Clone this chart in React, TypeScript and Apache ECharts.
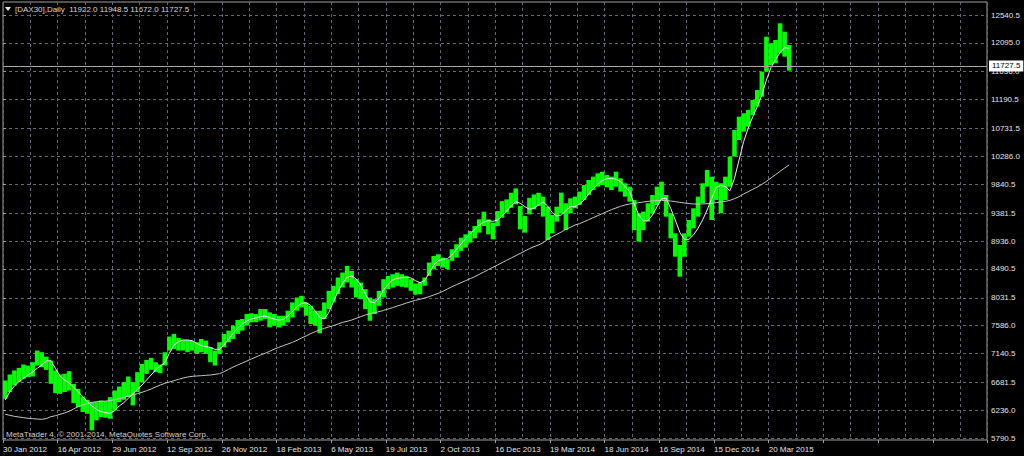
import React, { useEffect, useRef } from "react";
import * as echarts from "echarts";

// x-axis date labels (one every 12 weekly buckets)
const dateLabels = [
  "30 Jan 2012", "16 Apr 2012", "29 Jun 2012", "12 Sep 2012", "26 Nov 2012",
  "18 Feb 2013", "6 May 2013", "19 Jul 2013", "2 Oct 2013", "16 Dec 2013",
  "19 Mar 2014", "18 Jun 2014", "16 Sep 2014", "15 Dec 2014", "20 Mar 2015",
];

// price scale labels
const priceTicks = [
  5790.5, 6236.0, 6681.5, 7140.5, 7586.0, 8031.5, 8490.5, 8936.0,
  9381.5, 9840.5, 10286.0, 10731.5, 11190.5, 11636.0, 12095.0, 12540.5,
];

// weekly bucket highs
const weekHigh = [
  6712, 6808, 6872, 6914, 6967, 6951, 7004, 7190, 7163, 7094,
  7030, 6872, 6808, 6819, 6861, 6659, 6580, 6458, 6405, 6368,
  6368, 6394, 6384, 6447, 6553, 6617, 6686, 6776, 6686, 6845,
  6977, 7041, 7073, 7004, 6967, 7163, 7412, 7455, 7391, 7359,
  7359, 7348, 7322, 7375, 7348, 7242, 7190, 7322, 7455, 7508,
  7587, 7677, 7693, 7773, 7783, 7773, 7852, 7852, 7799, 7772,
  7745, 7745, 7825, 7957, 8036, 8063, 7957, 7904, 7825, 7825,
  7957, 8142, 8222, 8354, 8434, 8540, 8460, 8328, 8275, 8169,
  8036, 8010, 8142, 8328, 8381, 8407, 8434, 8407, 8381, 8328,
  8259, 8275, 8354, 8593, 8699, 8725, 8672, 8646, 8805, 8885,
  8990, 9043, 9096, 9176, 9282, 9404, 9282, 9229, 9414, 9573,
  9600, 9706, 9775, 9494, 9335, 9626, 9679, 9706, 9644, 9484,
  9351, 9484, 9708, 9538, 9617, 9644, 9724, 9830, 9910, 9963,
  10016, 10042, 9989, 9963, 10042, 9936, 9857, 9803, 9591, 9378,
  9405, 9538, 9670, 9803, 9883, 9670, 9378, 9059, 8873, 9059,
  9272, 9458, 9644, 9857, 10069, 9963, 9883, 9857, 9963, 10282,
  10707, 10919, 10973, 11026, 11185, 11345, 11637, 12195, 12089, 12142,
  12408, 12275, 12062,
];

// weekly bucket lows
const weekLow = [
  6421, 6527, 6633, 6686, 6739, 6765, 6776, 6951, 6925, 6882,
  6660, 6511, 6500, 6527, 6553, 6352, 6288, 6209, 6182, 5917,
  6076, 6130, 6119, 6103, 6235, 6368, 6405, 6447, 6315, 6527,
  6686, 6818, 6882, 6845, 6829, 6951, 7190, 7216, 7190, 7190,
  7163, 7190, 7136, 7163, 7136, 7004, 6951, 7136, 7242, 7322,
  7375, 7455, 7508, 7587, 7640, 7640, 7666, 7693, 7560, 7586,
  7559, 7586, 7639, 7718, 7825, 7878, 7745, 7612, 7586, 7464,
  7692, 7851, 7957, 8089, 8195, 8275, 8195, 8036, 8010, 7851,
  7665, 7771, 7904, 8036, 8169, 8195, 8222, 8206, 8195, 8142,
  8079, 8089, 8222, 8381, 8487, 8540, 8514, 8487, 8620, 8672,
  8779, 8832, 8911, 8980, 9070, 9176, 9043, 8964, 9176, 9308,
  9388, 9467, 9520, 9123, 9070, 9361, 9441, 9494, 9325, 8953,
  9059, 9245, 9378, 9112, 9378, 9458, 9511, 9591, 9670, 9750,
  9803, 9830, 9793, 9750, 9803, 9724, 9644, 9564, 9112, 8926,
  9112, 9245, 9378, 9511, 9591, 9325, 8979, 8687, 8368, 8687,
  9006, 9139, 9325, 9538, 9803, 9272, 9591, 9378, 9591, 9803,
  10282, 10547, 10680, 10760, 10946, 11079, 11238, 11637, 11743, 11770,
  11929, 11876, 11653,
];

// fast moving average
const fastMA = [
  6401, 6534, 6624, 6694, 6747, 6800, 6848, 6906, 6959, 7023,
  7028, 6906, 6784, 6720, 6678, 6603, 6534, 6454, 6374, 6306,
  6252, 6215, 6199, 6189, 6231, 6306, 6359, 6428, 6497, 6571,
  6640, 6720, 6800, 6880, 6943, 6997, 7145, 7278, 7331, 7358,
  7358, 7347, 7305, 7268, 7252, 7241, 7209, 7209, 7278, 7369,
  7464, 7544, 7613, 7661, 7693, 7709, 7730, 7740, 7715, 7690,
  7677, 7688, 7741, 7810, 7890, 7943, 7953, 7911, 7821, 7720,
  7693, 7799, 7969, 8129, 8262, 8357, 8379, 8331, 8235, 8092,
  7969, 7953, 8023, 8156, 8246, 8315, 8342, 8352, 8357, 8347,
  8304, 8272, 8304, 8421, 8554, 8623, 8644, 8655, 8714, 8804,
  8889, 8974, 9048, 9123, 9192, 9240, 9261, 9250, 9272, 9335,
  9415, 9495, 9564, 9537, 9484, 9442, 9458, 9511, 9559, 9495,
  9389, 9336, 9351, 9421, 9484, 9484, 9527, 9591, 9681, 9771,
  9846, 9899, 9931, 9936, 9920, 9883, 9803, 9724, 9527, 9351,
  9256, 9261, 9351, 9484, 9612, 9617, 9458, 9272, 9075, 8963,
  8963, 9033, 9139, 9272, 9431, 9617, 9793, 9825, 9803, 9739,
  9936, 10228, 10521, 10733, 10919, 11079, 11265, 11504, 11701, 11834,
  11940, 12020, 12009,
];

// slow moving average
const slowMA = [
  6173, 6157, 6141, 6130, 6120, 6109, 6104, 6098, 6093, 6104,
  6135, 6151, 6173, 6194, 6221, 6258, 6295, 6322, 6348, 6364,
  6375, 6380, 6385, 6391, 6407, 6422, 6444, 6465, 6486, 6502,
  6524, 6550, 6577, 6609, 6640, 6667, 6688, 6709, 6731, 6752,
  6768, 6779, 6784, 6789, 6795, 6800, 6810, 6821, 6853, 6890,
  6927, 6959, 6991, 7023, 7055, 7087, 7119, 7145, 7177, 7212,
  7241, 7268, 7294, 7321, 7353, 7390, 7422, 7459, 7491, 7518,
  7544, 7566, 7587, 7613, 7640, 7656, 7677, 7704, 7730, 7757,
  7778, 7794, 7810, 7831, 7852, 7874, 7900, 7922, 7948, 7969,
  7991, 8007, 8028, 8049, 8076, 8102, 8134, 8171, 8209, 8240,
  8272, 8304, 8336, 8368, 8405, 8442, 8480, 8517, 8554, 8591,
  8629, 8666, 8703, 8740, 8777, 8814, 8846, 8873, 8910, 8964,
  9006, 9043, 9080, 9123, 9155, 9192, 9213, 9245, 9277, 9309,
  9341, 9373, 9405, 9437, 9463, 9490, 9511, 9527, 9537, 9548,
  9559, 9569, 9575, 9580, 9585, 9580, 9575, 9564, 9553, 9543,
  9532, 9527, 9527, 9527, 9532, 9537, 9548, 9559, 9569, 9585,
  9612, 9644, 9686, 9723, 9761, 9798, 9840, 9888, 9941, 9994,
  10048, 10101, 10149,
];

const lastPrice = 11727.5;
const titleText = "[DAX30],Daily  11922.0 11948.5 11672.0 11727.5";
const copyrightText = "MetaTrader 4, \u00a9 2001-2014, MetaQuotes Software Corp.";

const FONT = "'Liberation Sans', Arial, sans-serif";
const GRID_COLOR = "#5e6a78";
const X_MAX = 215.9;

export default function App() {
  const ref = useRef<HTMLDivElement>(null);

  useEffect(() => {
    if (!ref.current) return;
    const chart = echarts.init(ref.current, undefined, { renderer: "svg" });

    const barData = weekHigh.map((h, i) => [i, weekLow[i], h]);
    const fastData = fastMA.map((v, i) => [i + 0.5, v]);
    const slowData = slowMA.map((v, i) => [i + 0.5, v]);

    chart.setOption({
      animation: false,
      backgroundColor: "#000000",
      grid: {
        left: 3,
        right: 37,
        top: 2,
        bottom: 16,
        show: true,
        borderColor: "#a0a0a0",
        borderWidth: 1,
        backgroundColor: "transparent",
      },
      xAxis: [
        {
          type: "value",
          min: 0,
          max: X_MAX,
          interval: 6,
          position: "bottom",
          axisLine: { show: false },
          axisTick: { show: false },
          splitLine: {
            show: true,
            lineStyle: { color: GRID_COLOR, type: [3, 3], width: 1 },
          },
          axisLabel: {
            show: true,
            color: "#e4e4e4",
            fontSize: 8,
            fontFamily: FONT,
            align: "left",
            margin: 5,
            showMaxLabel: false,
            formatter: (v: number) =>
              v % 12 === 0 && dateLabels[v / 12] ? dateLabels[v / 12] : "",
          },
        },
        {
          type: "value",
          min: 0,
          max: X_MAX,
          interval: 12,
          position: "bottom",
          axisLine: { show: false },
          axisTick: { show: true, length: 3, lineStyle: { color: "#a0a0a0" } },
          splitLine: { show: false },
          axisLabel: { show: false },
        },
      ],
      yAxis: {
        type: "value",
        position: "right",
        min: 5763.5,
        max: 12747.8,
        axisLine: { show: false },
        axisTick: {
          show: true,
          length: 3,
          lineStyle: { color: "#a0a0a0" },
          customValues: priceTicks,
        },
        splitLine: {
          show: true,
          lineStyle: { color: GRID_COLOR, type: [3, 3], width: 1 },
        },
        axisLabel: {
          show: true,
          customValues: priceTicks,
          color: "#e4e4e4",
          fontSize: 8,
          fontFamily: FONT,
          margin: 4,
          formatter: (v: number) => v.toFixed(1),
        },
      },
      graphic: [
        {
          type: "polygon",
          shape: { points: [[5, 7], [11, 7], [8, 11]] },
          style: { fill: "#e8e8e8" },
        },
        {
          type: "text",
          left: 15,
          top: 5,
          style: {
            text: titleText,
            fill: "#d8d8d8",
            fontSize: 8,
            fontFamily: FONT,
          },
        },
        {
          type: "text",
          left: 6,
          top: 430,
          style: {
            text: copyrightText,
            fill: "#d0d0d0",
            fontSize: 8,
            fontFamily: FONT,
          },
        },
      ],
      series: [
        {
          type: "custom",
          name: "DAX30",
          xAxisIndex: 0,
          data: barData,
          encode: { x: 0, y: [1, 2] },
          clip: true,
          renderItem: (params: any, api: any) => {
            const i = api.value(0);
            const lo = api.coord([i, api.value(1)]);
            const hi = api.coord([i + 1, api.value(2)]);
            return {
              type: "rect",
              shape: {
                x: lo[0],
                y: hi[1],
                width: hi[0] - lo[0],
                height: lo[1] - hi[1],
              },
              style: { fill: "#00ff00" },
            };
          },
          z: 2,
        },
        {
          type: "line",
          name: "MA slow",
          xAxisIndex: 0,
          data: slowData,
          showSymbol: false,
          symbol: "none",
          lineStyle: { color: "#c4c4c4", width: 1 },
          z: 3,
        },
        {
          type: "line",
          name: "MA fast",
          xAxisIndex: 0,
          data: fastData,
          showSymbol: false,
          symbol: "none",
          lineStyle: { color: "#ececec", width: 1 },
          z: 4,
          markLine: {
            silent: true,
            symbol: ["none", "none"],
            lineStyle: { color: "#a8a8a8", type: "solid", width: 1 },
            label: {
              show: true,
              position: "end",
              distance: 2,
              formatter: lastPrice.toFixed(1),
              backgroundColor: "#ffffff",
              color: "#000000",
              fontSize: 8,
              fontFamily: FONT,
              padding: [2, 3, 1, 3],
            },
            data: [{ yAxis: lastPrice }],
          },
        },
      ],
    });

    return () => chart.dispose();
  }, []);

  return (
    <div
      ref={ref}
      style={{ position: "fixed", left: 0, top: 0, width: 1024, height: 456 }}
    />
  );
}
